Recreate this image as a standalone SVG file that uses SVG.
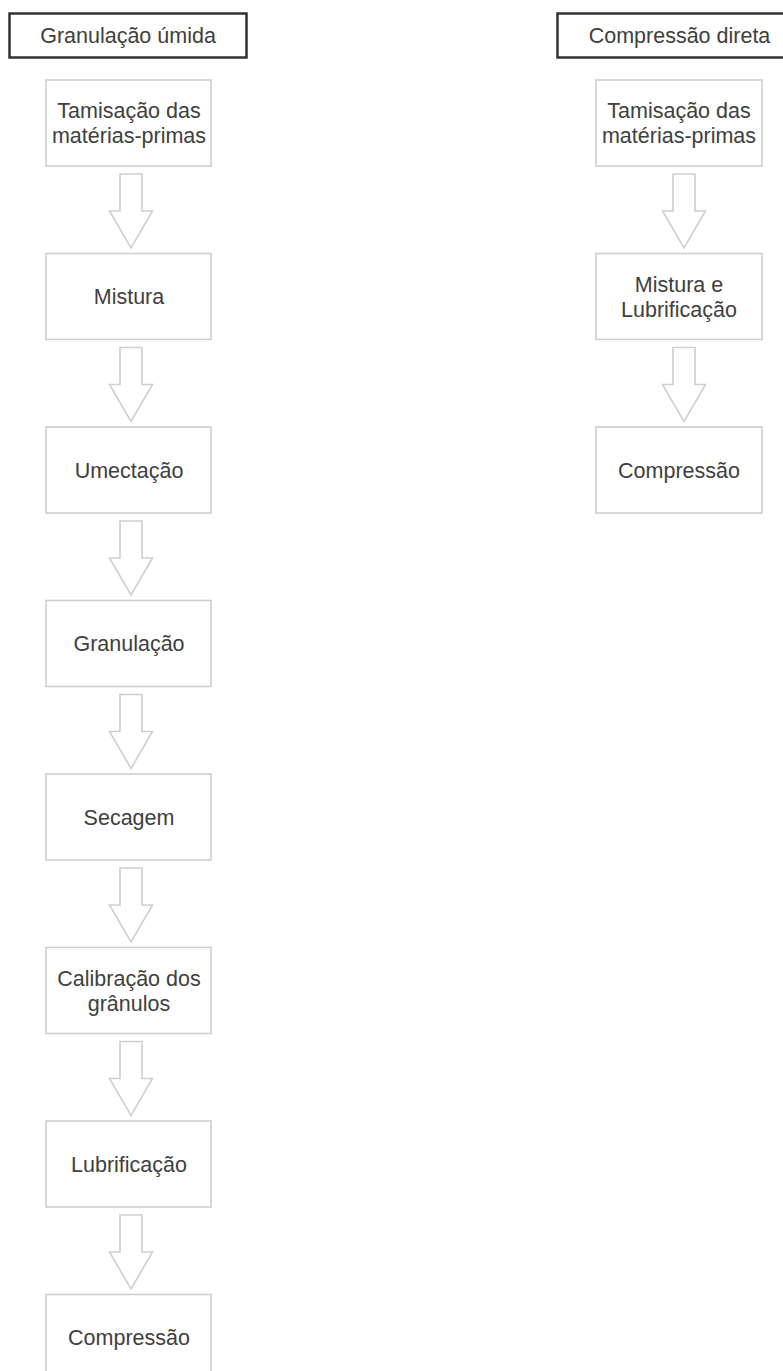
<svg xmlns="http://www.w3.org/2000/svg" xmlns:xlink="http://www.w3.org/1999/xlink" width="783" height="1371" viewBox="0 0 783 1371">
<style>
.hdr{fill:#fff;stroke:#333;stroke-width:2.5}
.box{fill:#fff;stroke:#cfcfcf;stroke-width:1.6}
.arr{fill:#fff;stroke:#cfcfcf;stroke-width:1.6;stroke-linejoin:miter}
text{font-family:"Liberation Sans",Arial,sans-serif;font-size:21.5px;fill:#404040;text-anchor:middle}
</style>
<defs>
<path id="arrow" d="M-11,0 H11 V37 H21.5 L0,74 L-21.5,37 H-11 Z"/>
</defs>
<rect width="783" height="1371" fill="#fff"/>
<g id="connectors">
<use xlink:href="#arrow" href="#arrow" class="arr" x="131" y="174"/>
<use xlink:href="#arrow" href="#arrow" class="arr" x="131" y="347.5"/>
<use xlink:href="#arrow" href="#arrow" class="arr" x="131" y="521"/>
<use xlink:href="#arrow" href="#arrow" class="arr" x="131" y="694.5"/>
<use xlink:href="#arrow" href="#arrow" class="arr" x="131" y="868"/>
<use xlink:href="#arrow" href="#arrow" class="arr" x="131" y="1041.5"/>
<use xlink:href="#arrow" href="#arrow" class="arr" x="131" y="1215"/>
<use xlink:href="#arrow" href="#arrow" class="arr" x="684" y="174"/>
<use xlink:href="#arrow" href="#arrow" class="arr" x="684" y="347.5"/>
</g>
<g id="hdr-left"><rect class="hdr" x="9.5" y="13.5" width="237" height="44"/><text x="128" y="43">Granulação úmida</text></g>
<g id="hdr-right"><rect class="hdr" x="557.5" y="13.5" width="250" height="44"/><text x="679.5" y="43">Compressão direta</text></g>
<g id="l1"><rect class="box" x="46" y="80" width="165" height="86"/><text x="129" y="118">Tamisação das</text><text x="129" y="143">matérias-primas</text></g>
<g id="l2"><rect class="box" x="46" y="253.5" width="165" height="86"/><text x="129" y="304">Mistura</text></g>
<g id="l3"><rect class="box" x="46" y="427" width="165" height="86"/><text x="129" y="477.5">Umectação</text></g>
<g id="l4"><rect class="box" x="46" y="600.5" width="165" height="86"/><text x="129" y="651">Granulação</text></g>
<g id="l5"><rect class="box" x="46" y="774" width="165" height="86"/><text x="129" y="824.5">Secagem</text></g>
<g id="l6"><rect class="box" x="46" y="947.5" width="165" height="86"/><text x="129" y="985.5">Calibração dos</text><text x="129" y="1010.5">grânulos</text></g>
<g id="l7"><rect class="box" x="46" y="1121" width="165" height="86"/><text x="129" y="1171.5">Lubrificação</text></g>
<g id="l8"><rect class="box" x="46" y="1294.5" width="165" height="86"/><text x="129" y="1345">Compressão</text></g>
<g id="r1"><rect class="box" x="596" y="80" width="166" height="86"/><text x="679" y="118">Tamisação das</text><text x="679" y="143">matérias-primas</text></g>
<g id="r2"><rect class="box" x="596" y="253.5" width="166" height="86"/><text x="679" y="291.5">Mistura e</text><text x="679" y="316.5">Lubrificação</text></g>
<g id="r3"><rect class="box" x="596" y="427" width="166" height="86"/><text x="679" y="477.5">Compressão</text></g>
</svg>
